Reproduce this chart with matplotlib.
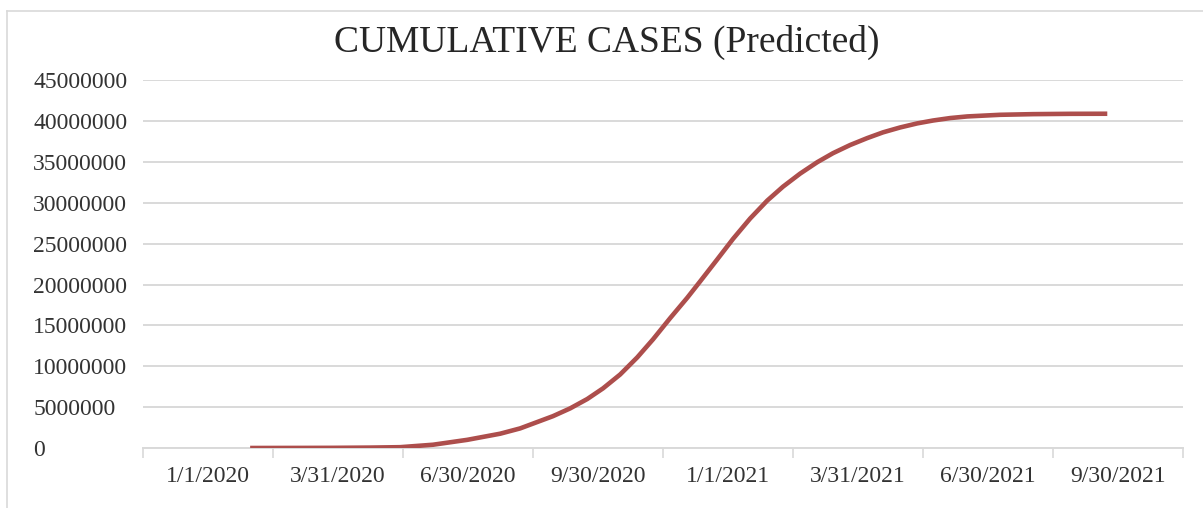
import matplotlib.pyplot as plt
from matplotlib.lines import Line2D
import numpy as np

# days since 1/1/2020 and predicted cumulative cases
days = [75, 110, 133, 159, 180, 203, 227, 250, 264, 287, 299, 311, 322, 334,
        346, 357, 369, 381, 390, 402, 413, 425, 437, 448, 460, 472, 483, 495,
        507, 518, 530, 542, 553, 565, 577, 600, 623, 649, 675]
cases = [0, 0.01e6, 0.02e6, 0.05e6, 0.1e6, 0.4e6, 1.0e6, 1.75e6, 2.4e6,
         3.9e6, 4.85e6, 6.0e6, 7.3e6, 9.0e6, 11.1e6, 13.3e6, 15.9e6, 18.4e6,
         20.4e6, 23.1e6, 25.6e6, 28.1e6, 30.3e6, 32.0e6, 33.6e6, 35.0e6,
         36.1e6, 37.1e6, 37.95e6, 38.65e6, 39.25e6, 39.75e6, 40.1e6, 40.4e6,
         40.6e6, 40.8e6, 40.88e6, 40.92e6, 40.93e6]
date_labels = ["1/1/2020", "3/31/2020", "6/30/2020", "9/30/2020",
               "1/1/2021", "3/31/2021", "6/30/2021", "9/30/2021"]
y_ticks = list(range(0, 45000001, 5000000))

W, H = 1203, 508
STEP = 91  # days per label slot
grid_col = "#D9D9D9"
text_col = "#333333"

plt.rcParams["font.family"] = ["Liberation Serif", "DejaVu Serif"]

fig = plt.figure(figsize=(W / 100, H / 100), dpi=100)
ax = fig.add_axes([143 / W, (H - 448) / H, (1183 - 143) / W, (448 - 80.5) / H])

ax.plot(days, cases, color="#AD4E4C", linewidth=3.3, solid_capstyle="butt",
        solid_joinstyle="round", zorder=3)

n = len(date_labels)
ax.set_xlim(0, n * STEP)
ax.set_ylim(0, 45000000)

ax.set_xticks(np.arange(n + 1) * STEP)
ax.set_xticklabels([])
ax.set_xticks(np.arange(n) * STEP + STEP / 2, minor=True)
ax.set_xticklabels(date_labels, minor=True)
ax.tick_params(axis="x", which="major", length=7, width=1.2, color=grid_col)
ax.tick_params(axis="x", which="minor", length=0, pad=13, labelsize=17,
               labelcolor=text_col)

ax.set_yticks(y_ticks)
ax.set_yticklabels([str(v) for v in y_ticks])
ax.tick_params(axis="y", length=0, pad=79, labelsize=17, labelcolor=text_col)
for lab in ax.get_yticklabels():
    lab.set_horizontalalignment("left")

ax.grid(axis="y", color=grid_col, linewidth=1.4)
ax.set_axisbelow(True)
for s in ["top", "right", "left"]:
    ax.spines[s].set_visible(False)
ax.spines["bottom"].set_color(grid_col)
ax.spines["bottom"].set_linewidth(1.4)

fig.text(607 / W, (H - 52) / H, "CUMULATIVE CASES (Predicted)", ha="center",
         va="baseline", fontsize=27, color="#262626")

# chart area border (cut off on right and bottom)
fig.add_artist(Line2D([7 / W, 7 / W], [0, (H - 11) / H], color=grid_col,
                      linewidth=1.2, transform=fig.transFigure))
fig.add_artist(Line2D([7 / W, 1], [(H - 11) / H, (H - 11) / H], color=grid_col,
                      linewidth=1.2, transform=fig.transFigure))

fig.savefig("out.png", dpi=100)
